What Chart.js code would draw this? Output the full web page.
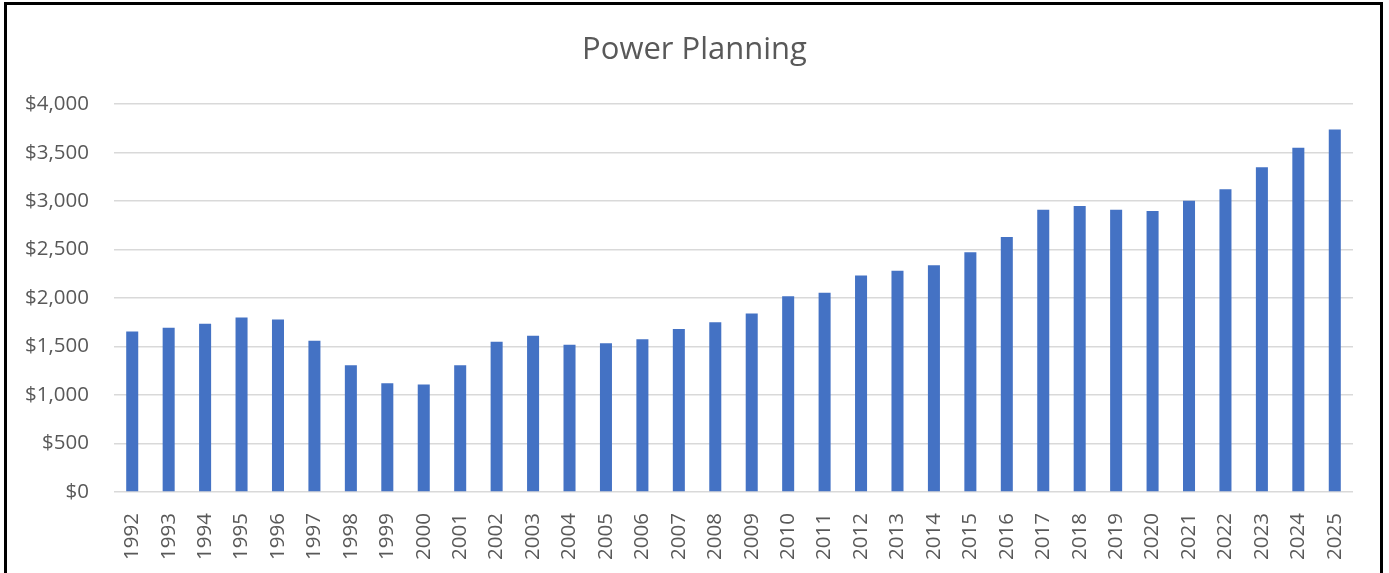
<!DOCTYPE html>
<html lang="en">
    <head>
        <meta charset="UTF-8">
        <title>Power Planning</title>
        <script src="https://cdn.jsdelivr.net/npm/chart.js"></script>
        <style>
            body,
            html {
                margin: 0;
                background: white;
                overflow: hidden;
            }
            .frame {
                position: absolute;
                left: 4px;
                top: 2px;
                width: 1379px;
                height: 620px;
                border: 3px solid black;
                box-sizing: border-box;
            }
            .wrap {
                position: absolute;
                left: 0;
                top: 0;
                width: 1389px;
                height: 573px;
            }
        </style>
    </head>
    <body>
        <div class="frame"></div>
        <div class="wrap">
            <canvas id="myChart"></canvas>
        </div>

        <script>
            const years = [
                '1992', '1993', '1994', '1995', '1996', '1997', '1998', '1999', '2000', '2001',
                '2002', '2003', '2004', '2005', '2006', '2007', '2008', '2009', '2010', '2011',
                '2012', '2013', '2014', '2015', '2016', '2017', '2018', '2019', '2020', '2021',
                '2022', '2023', '2024', '2025'
            ];
            const cost = [
                1655, 1695, 1735, 1800, 1778, 1560, 1308, 1122, 1110, 1308,
                1550, 1612, 1520, 1534, 1575, 1682, 1750, 1842, 2018, 2056,
                2232, 2283, 2338, 2472, 2630, 2912, 2950, 2912, 2898, 3005,
                3122, 3350, 3552, 3738
            ];
            const yTicks = [0, 500, 1000, 1500, 2000, 2500, 3000, 3500, 4000];

            const textColor = '#595959';
            const fontFamily = "'Open Sans', 'Liberation Sans', sans-serif";

            const ctx = document.getElementById('myChart').getContext('2d');
            window.myChart = new Chart(ctx, {
                type: 'bar',
                data: {
                    labels: years,
                    datasets: [
                        {
                            label: 'Power Planning',
                            data: cost,
                            backgroundColor: '#4472C4',
                            borderWidth: 0,
                            categoryPercentage: 1,
                            barPercentage: 0.33
                        }
                    ]
                },
                options: {
                    responsive: true,
                    maintainAspectRatio: false,
                    animation: false,
                    layout: {
                        padding: 0
                    },
                    plugins: {
                        legend: {display: false},
                        tooltip: {enabled: false},
                        title: {
                            display: true,
                            text: 'Power Planning',
                            color: textColor,
                            font: {family: fontFamily, size: 31, weight: 'normal'},
                            padding: {top: 32, bottom: 35}
                        }
                    },
                    scales: {
                        x: {
                            grid: {display: false},
                            border: {display: false},
                            ticks: {
                                color: textColor,
                                font: {family: fontFamily, size: 20.5},
                                autoSkip: false,
                                minRotation: 90,
                                maxRotation: 90,
                                padding: 13
                            },
                            afterFit: scale => {
                                scale.height = 81;
                            }
                        },
                        y: {
                            min: 0,
                            max: 4000,
                            afterBuildTicks: scale => {
                                scale.ticks = yTicks.map(v => ({value: v}));
                            },
                            grid: {
                                color: '#D9D9D9',
                                lineWidth: 1.5,
                                drawTicks: false
                            },
                            border: {display: false},
                            ticks: {
                                color: textColor,
                                font: {family: fontFamily, size: 20.5},
                                padding: 25,
                                callback: v => '$' + v.toLocaleString('en-US')
                            },
                            afterFit: scale => {
                                scale.width = 114;
                            }
                        },
                        // leere Achse rechts, nur als Abstand zum Rahmen
                        yRight: {
                            position: 'right',
                            grid: {display: false},
                            border: {display: false},
                            ticks: {display: false},
                            afterFit: scale => {
                                scale.width = 36;
                            }
                        }
                    }
                }
            });
        </script>
    </body>
</html>
